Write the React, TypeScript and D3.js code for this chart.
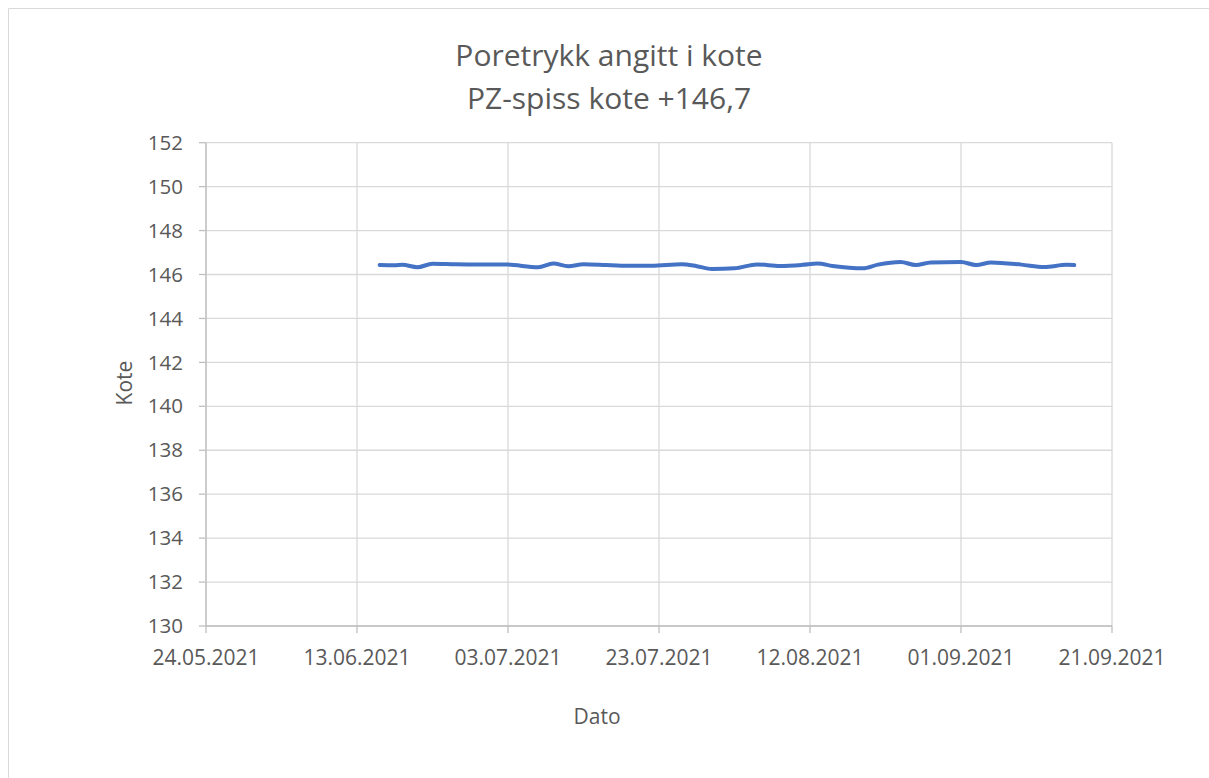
import React from "react";
import * as d3 from "d3";

const titleLines = ["Poretrykk angitt i kote", "PZ-spiss kote +146,7"];
const xTitle = "Dato";
const yTitle = "Kote";

const dates = [
  "2021-06-16", "2021-06-18", "2021-06-19", "2021-06-21", "2021-06-23", "2021-06-26",
  "2021-06-29", "2021-07-01", "2021-07-03", "2021-07-07", "2021-07-09", "2021-07-11",
  "2021-07-13", "2021-07-16", "2021-07-18", "2021-07-22", "2021-07-26", "2021-07-28",
  "2021-07-30", "2021-08-02", "2021-08-05", "2021-08-08", "2021-08-11", "2021-08-13",
  "2021-08-15", "2021-08-19", "2021-08-21", "2021-08-24", "2021-08-26", "2021-08-28",
  "2021-09-01", "2021-09-03", "2021-09-05", "2021-09-09", "2021-09-12", "2021-09-15",
  "2021-09-16",
];
const values = [
  146.43, 146.42, 146.44, 146.33, 146.49, 146.47,
  146.46, 146.46, 146.45, 146.33, 146.5, 146.38,
  146.47, 146.43, 146.4, 146.4, 146.47, 146.38,
  146.25, 146.28, 146.46, 146.39, 146.44, 146.5,
  146.39, 146.28, 146.45, 146.57, 146.43, 146.55,
  146.57, 146.43, 146.55, 146.45, 146.34, 146.44,
  146.43,
];
const xTickDates = ["2021-05-24", "2021-06-13", "2021-07-03", "2021-07-23", "2021-08-12", "2021-09-01", "2021-09-21"];
const yTicks = [130, 132, 134, 136, 138, 140, 142, 144, 146, 148, 150, 152];

const parse = d3.timeParse("%Y-%m-%d");
const fmt = d3.timeFormat("%d.%m.%Y");

export default function App() {
  const W = 1209, H = 778;
  const left = 206, right = 1112, top = 142.7, bottom = 626;
  const x = d3.scaleTime().domain([parse(xTickDates[0])!, parse(xTickDates[xTickDates.length - 1])!]).range([left, right]);
  const y = d3.scaleLinear().domain([130, 152]).range([bottom, top]);
  const data = dates.map((d, i) => ({ t: parse(d)!, v: values[i] }));
  const line = d3.line<{ t: Date; v: number }>().x(d => x(d.t)).y(d => y(d.v)).curve(d3.curveMonotoneX);
  const font = "'Open Sans', sans-serif";
  const textColor = "#595959";
  return (
    <>
      <style>{"html,body{margin:0;padding:0;overflow:hidden;background:#fff}"}</style>
      <svg width={W} height={H} style={{ display: "block", position: "absolute", left: 0, top: 0 }} fontFamily={font}>
        <rect x={0} y={0} width={W} height={H} fill="#fff" />
        <path d={`M8.5,${H}V8.5H${W}`} fill="none" stroke="#d9d9d9" />
        {titleLines.map((t, i) => (
          <text key={i} x={609} y={66 + i * 43} textAnchor="middle" fontSize={30} fill={textColor}>{t}</text>
        ))}
        {yTicks.map(v => (
          <g key={v}>
            <line x1={left} x2={right} y1={y(v)} y2={y(v)} stroke="#d9d9d9" strokeWidth={1.3} />
            <line x1={left - 7} x2={left} y1={y(v)} y2={y(v)} stroke="#bfbfbf" strokeWidth={1.3} />
            <text x={183} y={y(v)} dy="0.35em" textAnchor="end" fontSize={20.5} fill={textColor}>{v}</text>
          </g>
        ))}
        {xTickDates.map(s => {
          const d = parse(s)!;
          return (
            <g key={s}>
              <line x1={x(d)} x2={x(d)} y1={top} y2={bottom} stroke="#d9d9d9" strokeWidth={1.3} />
              <line x1={x(d)} x2={x(d)} y1={bottom} y2={bottom + 7} stroke="#bfbfbf" strokeWidth={1.3} />
              <text x={x(d)} y={bottom + 39} textAnchor="middle" fontSize={21} fill={textColor}>{fmt(d)}</text>
            </g>
          );
        })}
        <line x1={left} x2={right} y1={bottom} y2={bottom} stroke="#bfbfbf" strokeWidth={1.3} />
        <line x1={left} x2={left} y1={top} y2={bottom} stroke="#bfbfbf" strokeWidth={1.3} />
        <path d={line(data) || ""} fill="none" stroke="#4472C4" strokeWidth={4} strokeLinecap="round" strokeLinejoin="round" />
        <text x={597} y={724} textAnchor="middle" fontSize={21} fill={textColor}>{xTitle}</text>
        <text transform={`translate(125,383) rotate(-90)`} dy="0.35em" textAnchor="middle" fontSize={21} fill={textColor}>{yTitle}</text>
      </svg>
    </>
  );
}
